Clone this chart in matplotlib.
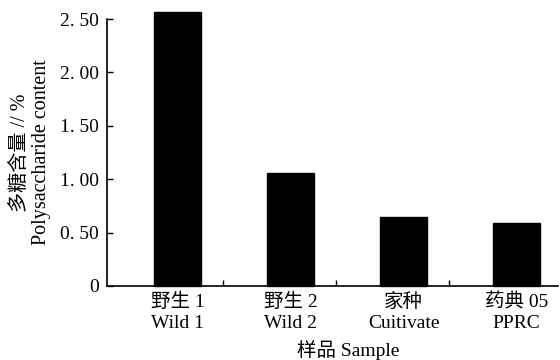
import matplotlib
matplotlib.use("Agg")
import matplotlib.pyplot as plt

categories = ["野生 1\nWild 1", "野生 2\nWild 2", "家种\nCuitivate", "药典 05\nPPRC"]
values = [2.57, 1.06, 0.65, 0.59]
yticks = [0, 0.5, 1.0, 1.5, 2.0, 2.5]
ytick_labels = ["0", "0. 50", "1. 00", "1. 50", "2. 00", "2. 50"]
sep_ticks = [0.4, 1.4, 2.4]

plt.rcParams['font.family'] = ['Liberation Serif', 'Noto Sans CJK SC', 'DejaVu Sans']

W, H = 560, 360
fig = plt.figure(figsize=(W / 100, H / 100), dpi=100)
ax = fig.add_axes([107 / W, 74 / H, 451 / W, 267 / H])

x = list(range(len(categories)))
bars = ax.bar(x, values, width=0.415, color="black", edgecolor="black")
for b in bars:
    b.set_clip_on(False)

ax.set_xlim(-0.624, 3.367)
ax.set_ylim(0, 2.5)
ax.set_yticks(yticks)
ax.set_yticklabels(ytick_labels, fontsize=14)
ax.set_xticks(x)
ax.set_xticklabels(categories, fontsize=14, linespacing=1.3)
ax.set_xticks(sep_ticks, minor=True)

ax.tick_params(axis='x', which='major', length=0, pad=5)
ax.tick_params(axis='x', which='minor', direction='in', length=4, width=1)
ax.tick_params(axis='y', direction='in', length=4, width=1, pad=6)

for s in ['top', 'right']:
    ax.spines[s].set_visible(False)
for s in ['left', 'bottom']:
    ax.spines[s].set_linewidth(1.2)

ax.set_ylabel("多糖含量 // %\nPolysaccharide content", fontsize=14.5, linespacing=1.2, labelpad=6)
fig.text(348 / W, 1 - 350 / H, "样品 Sample", fontsize=14, ha='center', va='center')

fig.savefig("out.png", dpi=100)
